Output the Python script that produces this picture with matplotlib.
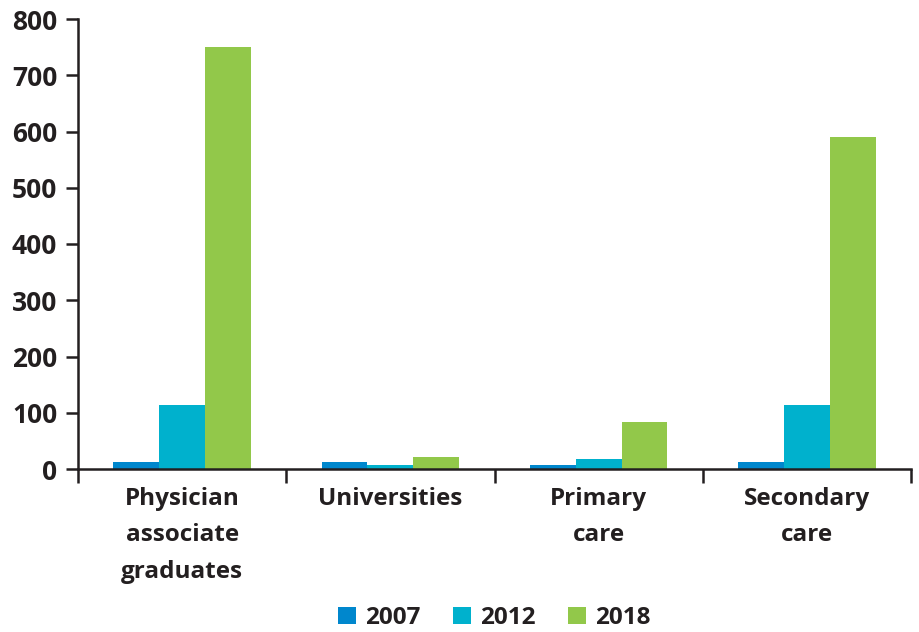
import matplotlib
matplotlib.use("Agg")
import matplotlib.pyplot as plt
import numpy as np

categories = ["Physician\nassociate\ngraduates", "Universities", "Primary\ncare", "Secondary\ncare"]
years = ["2007", "2012", "2018"]
v2007 = [12, 12, 8, 12]
v2012 = [113, 8, 17, 113]
v2018 = [750, 22, 83, 590]
colors = ["#0087CD", "#00B1CD", "#92C84A"]
yticks = [0, 100, 200, 300, 400, 500, 600, 700, 800]

plt.rcParams['font.family'] = ['Open Sans', 'DejaVu Sans']
plt.rcParams['font.weight'] = 'bold'
FS = 17.5

fig = plt.figure(figsize=(9.19, 6.32), dpi=100)
ax = fig.add_axes([78/919, 1-469/632, (911-78)/919, (469-19)/632])

x = np.arange(len(categories))
w = 0.22
for i, (vals, lab) in enumerate(zip([v2007, v2012, v2018], years)):
    ax.bar(x + (i-1)*w, vals, width=w, color=colors[i], label=lab, zorder=2)

ax.set_xlim(-0.5, 3.5)
ax.set_ylim(0, 800)
ax.set_yticks(yticks)
ax.set_yticklabels([str(t) for t in yticks], fontsize=19, fontweight='bold', color='#231F20')
ax.set_xticks([-0.5, 0.5, 1.5, 2.5, 3.5])
ax.set_xticklabels([])
ax.set_xticks(x, minor=True)
ax.set_xticklabels(categories, minor=True, fontsize=FS, fontweight='bold', color='#231F20', linespacing=1.68, va='top')
ax.tick_params(axis='x', which='minor', length=0, pad=13)
ax.tick_params(axis='x', which='major', length=10, width=1.8, direction='out', color='#231F20')
ax.tick_params(axis='y', length=9, width=1.8, direction='out', color='#231F20', pad=6)
for s in ['top', 'right']:
    ax.spines[s].set_visible(False)
for s in ['left', 'bottom']:
    ax.spines[s].set_linewidth(1.8)
    ax.spines[s].set_color('#231F20')

leg = fig.legend(loc='center', bbox_to_anchor=(494/919, 1-618/632), ncol=3, frameon=False,
                 prop={'size': FS, 'weight': 'bold'}, handlelength=0.75, handleheight=0.75,
                 columnspacing=1.35, handletextpad=0.35)
for t in leg.get_texts():
    t.set_color('#231F20')

fig.savefig("out.png", dpi=100)
